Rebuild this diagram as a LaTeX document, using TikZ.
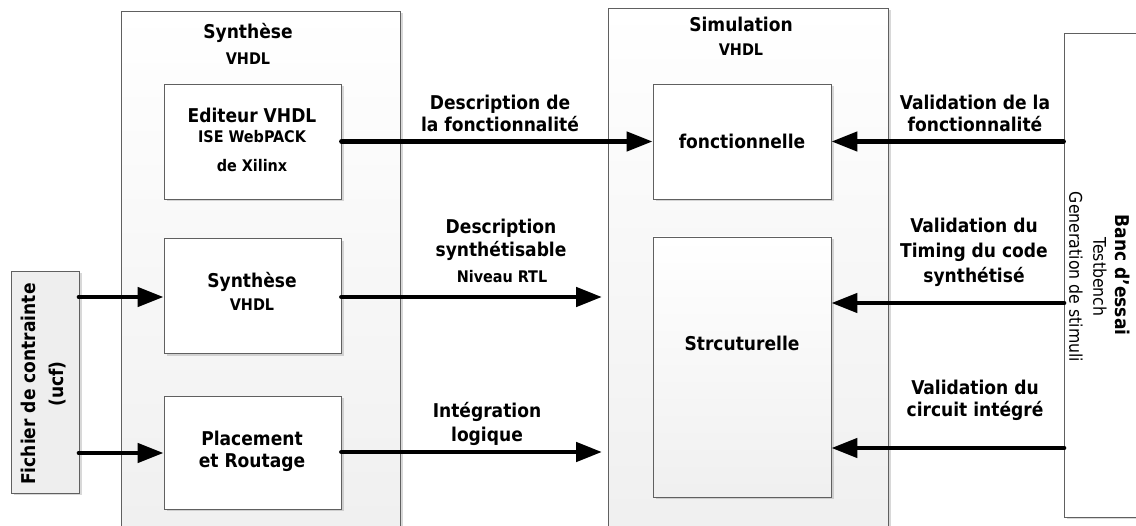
\documentclass[tikz,border=0pt]{standalone}
\usepackage{fontspec}
\setmainfont{DejaVu Sans Condensed}
\usetikzlibrary{arrows.meta,shadows}

\tikzset{
  box/.style={draw=gray!75!black, line width=0.9pt, inner sep=0pt,
    drop shadow={shadow xshift=2.5pt, shadow yshift=-2.5pt, opacity=.3, fill=gray}},
  innerbox/.style={box, fill=white},
  outerbox/.style={box, top color=white, bottom color=gray!12},
  sidebox/.style={box, fill=gray!13},
  big/.style={font=\fontsize{19}{22}\selectfont\bfseries, align=center, inner sep=0pt},
  small/.style={font=\fontsize{16}{18}\selectfont\bfseries, align=center, inner sep=0pt},
  plain/.style={font=\fontsize{17.5}{20}\selectfont, align=center, inner sep=0pt},
  flow/.style={line width=4.7pt, line cap=round,
    -{Triangle[length=26pt,width=19pt]}},
}

\begin{document}
\begin{tikzpicture}[x=1pt,y=-1pt]
\clip (0,0) rectangle (1136,526);
\fill[white] (0,0) rectangle (1136,526);

% group frames
\node[outerbox, minimum width=279pt, minimum height=522pt] (synth) at (260.5,272) {};
\node[outerbox, minimum width=280pt, minimum height=518pt] (sim) at (748,267) {};
\node[sidebox, minimum width=68pt, minimum height=222pt] (fichier) at (45,382) {};
\node[innerbox, minimum width=90pt, minimum height=484pt] (banc) at (1109,275) {};

% synthesis steps
\node[innerbox, minimum width=177pt, minimum height=115pt] (editeur) at (252.5,141.5) {};
\node[innerbox, minimum width=177pt, minimum height=115pt] (synthbox) at (252.5,296) {};
\node[innerbox, minimum width=177pt, minimum height=113pt] (placement) at (252.5,452.5) {};

% simulation stages
\node[innerbox, minimum width=178pt, minimum height=115pt] (fonct) at (742,141.5) {};
\node[outerbox, minimum width=178pt, minimum height=260pt] (strc) at (742,367) {};

% titles
\node[big] (tsynth) at (248,33) {Synthèse};
\node[small] (tsynthv) at (248,59) {VHDL};
\node[big] (tsim) at (741,24) {Simulation};
\node[small] (tsimv) at (741,50) {VHDL};

% box texts
\node[big] (teditA) at (252,115) {Editeur VHDL};
\node[small] (teditB) at (252,137) {ISE WebPACK};
\node[small] (teditC) at (252,166) {de Xilinx};
\node[big] (tsynA) at (252,282) {Synthèse};
\node[small] (tsynB) at (252,305) {VHDL};
\node[big] (tplace) at (252,451) {Placement\\et Routage};
\node[big] (tfonct) at (742,141) {fonctionnelle};
\node[big] (tstrc) at (742,343) {Strcuturelle};
\node[big, rotate=90, font=\fontsize{19}{28}\selectfont\bfseries] (tfich) at (44,384) {Fichier de contrainte\\(ucf)};
\node[big, rotate=-90] (tbancA) at (1123,275) {Banc d’essai};
\node[plain, rotate=-90] (tbancB) at (1100,277) {Testbench};
\node[plain, rotate=-90] (tbancC) at (1076,277) {Generation de stimuli};

% connector labels
\node[big] (l1) at (500,113) {Description de\\la fonctionnalité};
\node[big, font=\fontsize{19}{23}\selectfont\bfseries] (l2) at (501,240) {Description\\synthétisable};
\node[small] (l2b) at (502,277) {Niveau RTL};
\node[big, font=\fontsize{19}{24}\selectfont\bfseries] (l3) at (487,424) {Intégration\\logique};
\node[big] (r1) at (975,113) {Validation de la\\fonctionnalité};
\node[big, font=\fontsize{19}{25}\selectfont\bfseries] (r2) at (974,252) {Validation du\\Timing du code\\synthétisé};
\node[big] (r3) at (975,400) {Validation du\\circuit intégré};

% connector end points
\coordinate (s2) at (608,297);
\coordinate (s3) at (608,452);
\coordinate (b2) at (1064,303);
\coordinate (b3) at (1064,448);
\coordinate (f1) at (79,297);
\coordinate (f2) at (79,453);

% connectors
\draw[flow] (editeur.east) -- (fonct.west);
\draw[flow, shorten >=6pt] (synthbox.east |- s2) -- (s2);
\draw[flow, shorten >=6pt] (placement.east |- s3) -- (s3);
\draw[flow] (f1) -- (synthbox.west |- f1);
\draw[flow] (f2) -- (placement.west |- f2);
\draw[flow] (banc.west |- fonct.east) -- (fonct.east);
\draw[flow] (b2) -- (strc.east |- b2);
\draw[flow] (b3) -- (strc.east |- b3);
\end{tikzpicture}
\end{document}
